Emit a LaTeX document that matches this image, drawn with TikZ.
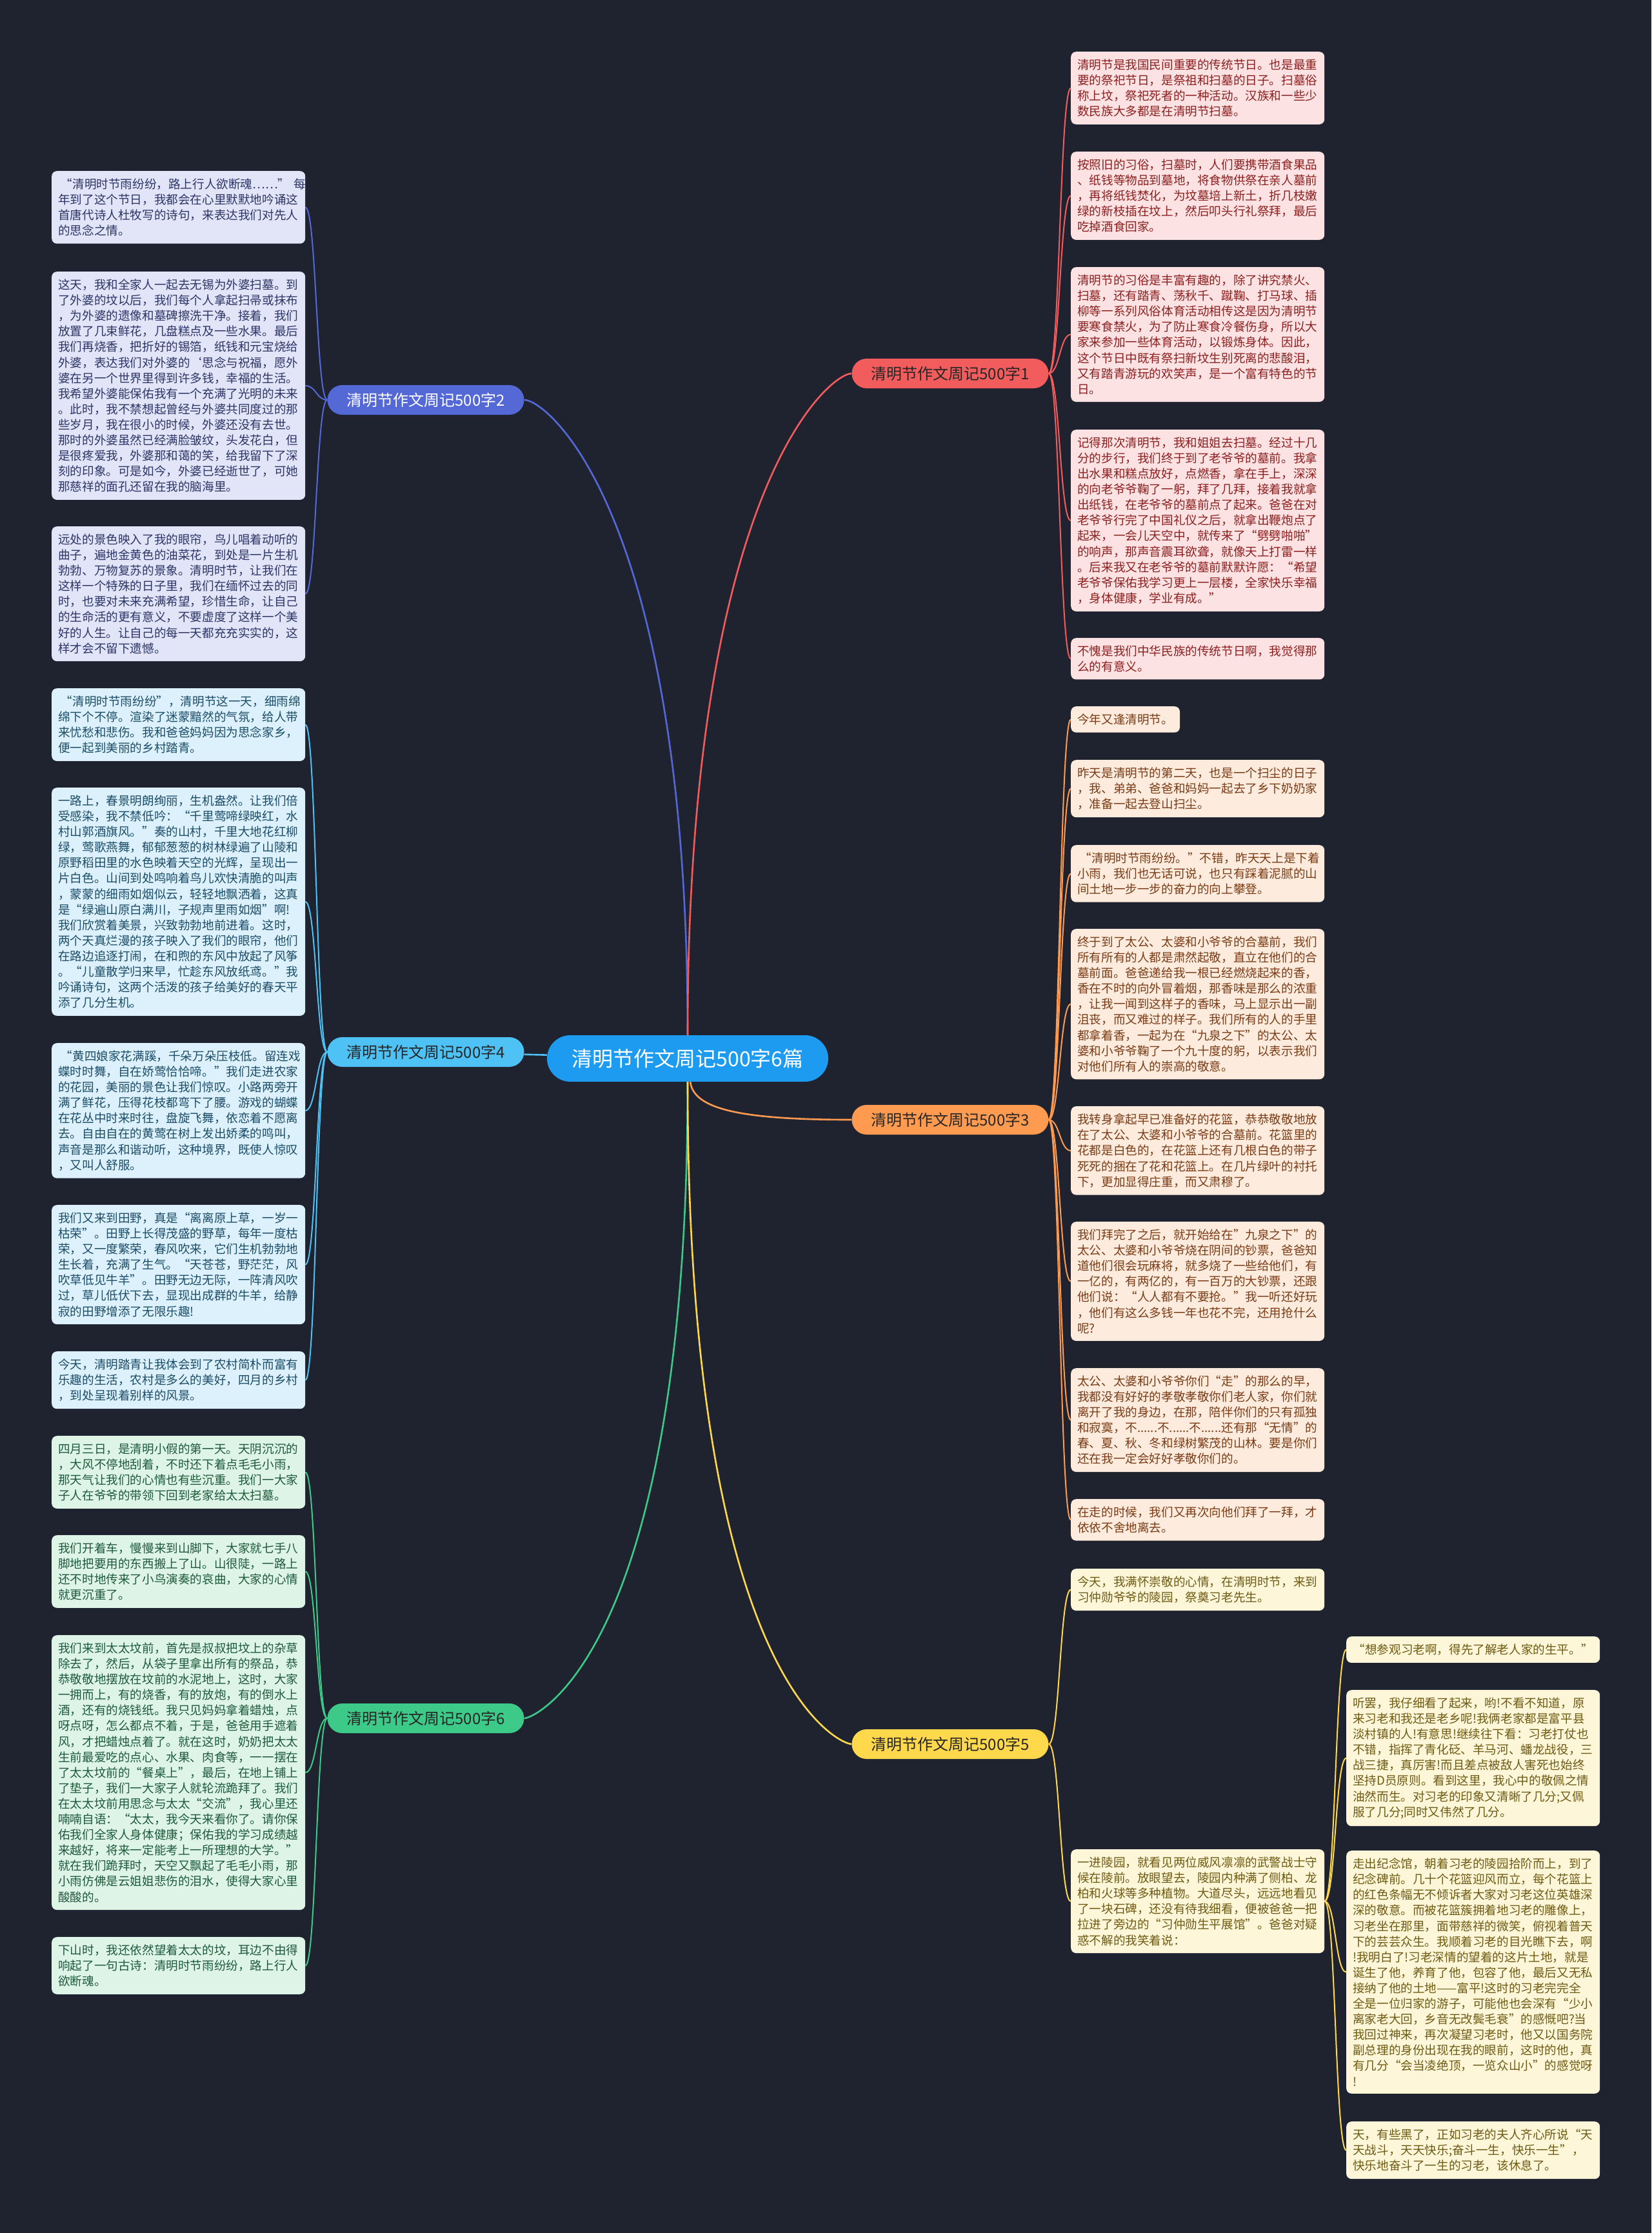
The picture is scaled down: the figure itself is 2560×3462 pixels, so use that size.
\documentclass[tikz,border=0pt]{standalone}
\usepackage{fontspec}
\setmainfont{Noto Sans CJK SC}
\usetikzlibrary{calc}
\pgfdeclarelayer{back}
\pgfdeclarelayer{lines}
\pgfsetlayers{back,lines,main}
\definecolor{bgc}{HTML}{1F2330}
\definecolor{cC}{HTML}{1D9BF0}
\definecolor{cB1}{HTML}{F25C5C}
\definecolor{cB2}{HTML}{5468D6}
\definecolor{cB3}{HTML}{FF9B50}
\definecolor{cB4}{HTML}{4EC1F5}
\definecolor{cB5}{HTML}{FFD84C}
\definecolor{cB6}{HTML}{3DCA88}
\definecolor{f1}{HTML}{FCE2E2}\definecolor{t1}{HTML}{8C1F1F}
\definecolor{f2}{HTML}{E2E5F7}\definecolor{t2}{HTML}{2C3566}
\definecolor{f3}{HTML}{FDEBDD}\definecolor{t3}{HTML}{7A3B15}
\definecolor{f4}{HTML}{DCF1FB}\definecolor{t4}{HTML}{1B4C68}
\definecolor{f5}{HTML}{FDF6D9}\definecolor{t5}{HTML}{6E5A12}
\definecolor{f6}{HTML}{DDF4E7}\definecolor{t6}{HTML}{1E5A3B}
\newcommand\linkL[3]{\draw[#1] (#2.west) .. controls ($(#2.west)+(-17,0)$) and ($(#3.east)+(17,0)$) .. (#3.east);}
\newcommand\linkR[3]{\draw[#1] (#2.east) .. controls ($(#2.east)+(17,0)$) and ($(#3.west)+(-17,0)$) .. (#3.west);}
\begin{document}
\begin{tikzpicture}[x=1pt,y=-1pt,
  leaf/.style={anchor=north west, rounded corners=8pt, text width=373pt, align=left,
    inner xsep=10pt, inner ysep=11.5pt, font=\fontsize{18.6pt}{24.1pt}\selectfont},
  lf1/.style={leaf, fill=f1, text=t1},
  lf2/.style={leaf, fill=f2, text=t2},
  lf3/.style={leaf, fill=f3, text=t3},
  lf4/.style={leaf, fill=f4, text=t4},
  lf5/.style={leaf, fill=f5, text=t5},
  lf6/.style={leaf, fill=f6, text=t6},
  br/.style={rounded corners=23pt, minimum width=305pt, minimum height=46pt, inner sep=0pt,
    font=\fontsize{24pt}{28pt}\selectfont, text=black!85},
  lk/.style={line width=2pt},
  ck/.style={line width=2.6pt}]
\useasboundingbox (0,0) rectangle (2560,3462);
\begin{pgfonlayer}{back}
\fill[bgc] (0,0) rectangle (2560,3462);
\end{pgfonlayer}

% center and branches
\node[fill=cC, text=white, rounded corners=36pt, minimum width=436pt, minimum height=72pt, inner sep=0pt,
  font=\fontsize{32pt}{36pt}\selectfont] (c) at (1066,1641) {清明节作文周记500字6篇};
\node[br, fill=cB2, text=white] (b2) at (660,620) {清明节作文周记500字2};
\node[br, fill=cB4] (b4) at (660,1631) {清明节作文周记500字4};
\node[br, fill=cB6] (b6) at (660,2664) {清明节作文周记500字6};
\node[br, fill=cB1] (b1) at (1473,579) {清明节作文周记500字1};
\node[br, fill=cB3] (b3) at (1473,1736) {清明节作文周记500字3};
\node[br, fill=cB5] (b5) at (1473,2704) {清明节作文周记500字5};

% branch 2
\node[lf2] (L2a) at (80,265) {\hspace{0.2em}“清明时节雨纷纷，路上行人欲断魂……”~每\\年到了这个节日，我都会在心里默默地吟诵这\\首唐代诗人杜牧写的诗句，来表达我们对先人\\的思念之情。};
\node[lf2] (L2b) at (80,421) {这天，我和全家人一起去无锡为外婆扫墓。到\\了外婆的坟以后，我们每个人拿起扫帚或抹布\\，为外婆的遗像和墓碑擦洗干净。接着，我们\\放置了几束鲜花，几盘糕点及一些水果。最后\\我们再烧香，把折好的锡箔，纸钱和元宝烧给\\外婆，表达我们对外婆的`思念与祝福，愿外\\婆在另一个世界里得到许多钱，幸福的生活。\\我希望外婆能保佑我有一个充满了光明的未来\\。此时，我不禁想起曾经与外婆共同度过的那\\些岁月，我在很小的时候，外婆还没有去世。\\那时的外婆虽然已经满脸皱纹，头发花白，但\\是很疼爱我，外婆那和蔼的笑，给我留下了深\\刻的印象。可是如今，外婆已经逝世了，可她\\那慈祥的面孔还留在我的脑海里。};
\node[lf2] (L2c) at (80,816) {远处的景色映入了我的眼帘，鸟儿唱着动听的\\曲子，遍地金黄色的油菜花，到处是一片生机\\勃勃、万物复苏的景象。清明时节，让我们在\\这样一个特殊的日子里，我们在缅怀过去的同\\时，也要对未来充满希望，珍惜生命，让自己\\的生命活的更有意义，不要虚度了这样一个美\\好的人生。让自己的每一天都充充实实的，这\\样才会不留下遗憾。};

% branch 4
\node[lf4] (L4a) at (80,1067) {\hspace{0.2em}“清明时节雨纷纷”，清明节这一天，细雨绵\\绵下个不停。渲染了迷蒙黯然的气氛，给人带\\来忧愁和悲伤。我和爸爸妈妈因为思念家乡，\\便一起到美丽的乡村踏青。};
\node[lf4] (L4b) at (80,1221) {一路上，春景明朗绚丽，生机盎然。让我们倍\\受感染，我不禁低吟：“千里莺啼绿映红，水\\村山郭酒旗风。”奏的山村，千里大地花红柳\\绿，莺歌燕舞，郁郁葱葱的树林绿遍了山陵和\\原野稻田里的水色映着天空的光辉，呈现出一\\片白色。山间到处鸣响着鸟儿欢快清脆的叫声\\，蒙蒙的细雨如烟似云，轻轻地飘洒着，这真\\是“绿遍山原白满川，子规声里雨如烟”啊!\\我们欣赏着美景，兴致勃勃地前进着。这时，\\两个天真烂漫的孩子映入了我们的眼帘，他们\\在路边追逐打闹，在和煦的东风中放起了风筝\\。“儿童散学归来早，忙趁东风放纸鸢。”我\\吟诵诗句，这两个活泼的孩子给美好的春天平\\添了几分生机。};
\node[lf4] (L4c) at (80,1617) {\hspace{0.2em}“黄四娘家花满蹊，千朵万朵压枝低。留连戏\\蝶时时舞，自在娇莺恰恰啼。”我们走进农家\\的花园，美丽的景色让我们惊叹。小路两旁开\\满了鲜花，压得花枝都弯下了腰。游戏的蝴蝶\\在花丛中时来时往，盘旋飞舞，依恋着不愿离\\去。自由自在的黄莺在树上发出娇柔的鸣叫，\\声音是那么和谐动听，这种境界，既使人惊叹\\，又叫人舒服。};
\node[lf4] (L4d) at (80,1868) {我们又来到田野，真是“离离原上草，一岁一\\枯荣”。田野上长得茂盛的野草，每年一度枯\\荣，又一度繁荣，春风吹来，它们生机勃勃地\\生长着，充满了生气。“天苍苍，野茫茫，风\\吹草低见牛羊”。田野无边无际，一阵清风吹\\过，草儿低伏下去，显现出成群的牛羊，给静\\寂的田野增添了无限乐趣!};
\node[lf4] (L4e) at (80,2095) {今天，清明踏青让我体会到了农村简朴而富有\\乐趣的生活，农村是多么的美好，四月的乡村\\，到处呈现着别样的风景。};

% branch 6
\node[lf6] (L6a) at (80,2226) {四月三日，是清明小假的第一天。天阴沉沉的\\，大风不停地刮着，不时还下着点毛毛小雨，\\那天气让我们的心情也有些沉重。我们一大家\\子人在爷爷的带领下回到老家给太太扫墓。};
\node[lf6] (L6b) at (80,2380) {我们开着车，慢慢来到山脚下，大家就七手八\\脚地把要用的东西搬上了山。山很陡，一路上\\还不时地传来了小鸟演奏的哀曲，大家的心情\\就更沉重了。};
\node[lf6] (L6c) at (80,2535) {我们来到太太坟前，首先是叔叔把坟上的杂草\\除去了，然后，从袋子里拿出所有的祭品，恭\\恭敬敬地摆放在坟前的水泥地上，这时，大家\\一拥而上，有的烧香，有的放炮，有的倒水上\\酒，还有的烧钱纸。我只见妈妈拿着蜡烛，点\\呀点呀，怎么都点不着，于是，爸爸用手遮着\\风，才把蜡烛点着了。就在这时，奶奶把太太\\生前最爱吃的点心、水果、肉食等，一一摆在\\了太太坟前的“餐桌上”，最后，在地上铺上\\了垫子，我们一大家子人就轮流跪拜了。我们\\在太太坟前用思念与太太“交流”，我心里还\\喃喃自语：“太太，我今天来看你了。请你保\\佑我们全家人身体健康；保佑我的学习成绩越\\来越好，将来一定能考上一所理想的大学。”\\就在我们跪拜时，天空又飘起了毛毛小雨，那\\小雨仿佛是云姐姐悲伤的泪水，使得大家心里\\酸酸的。};
\node[lf6] (L6d) at (80,3003) {下山时，我还依然望着太太的坟，耳边不由得\\响起了一句古诗：清明时节雨纷纷，路上行人\\欲断魂。};

% branch 1
\node[lf1] (R1a) at (1660,80) {清明节是我国民间重要的传统节日。也是最重\\要的祭祀节日，是祭祖和扫墓的日子。扫墓俗\\称上坟，祭祀死者的一种活动。汉族和一些少\\数民族大多都是在清明节扫墓。};
\node[lf1] (R1b) at (1660,235) {按照旧的习俗，扫墓时，人们要携带酒食果品\\、纸钱等物品到墓地，将食物供祭在亲人墓前\\，再将纸钱焚化，为坟墓培上新土，折几枝嫩\\绿的新枝插在坟上，然后叩头行礼祭拜，最后\\吃掉酒食回家。};
\node[lf1] (R1c) at (1660,414) {清明节的习俗是丰富有趣的，除了讲究禁火、\\扫墓，还有踏青、荡秋千、蹴鞠、打马球、插\\柳等一系列风俗体育活动相传这是因为清明节\\要寒食禁火，为了防止寒食冷餐伤身，所以大\\家来参加一些体育活动，以锻炼身体。因此，\\这个节日中既有祭扫新坟生别死离的悲酸泪，\\又有踏青游玩的欢笑声，是一个富有特色的节\\日。};
\node[lf1] (R1d) at (1660,666) {记得那次清明节，我和姐姐去扫墓。经过十几\\分的步行，我们终于到了老爷爷的墓前。我拿\\出水果和糕点放好，点燃香，拿在手上，深深\\的向老爷爷鞠了一躬，拜了几拜，接着我就拿\\出纸钱，在老爷爷的墓前点了起来。爸爸在对\\老爷爷行完了中国礼仪之后，就拿出鞭炮点了\\起来，一会儿天空中，就传来了“劈劈啪啪”\\的响声，那声音震耳欲聋，就像天上打雷一样\\。后来我又在老爷爷的墓前默默许愿：“希望\\老爷爷保佑我学习更上一层楼，全家快乐幸福\\，身体健康，学业有成。”};
\node[lf1] (R1e) at (1660,989) {不愧是我们中华民族的传统节日啊，我觉得那\\么的有意义。};

% branch 3
\node[lf3, text width=] (R3a) at (1660,1095) {今年又逢清明节。};
\node[lf3] (R3b) at (1660,1178) {昨天是清明节的第二天，也是一个扫尘的日子\\，我、弟弟、爸爸和妈妈一起去了乡下奶奶家\\，准备一起去登山扫尘。};
\node[lf3] (R3c) at (1660,1310) {\hspace{0.2em}“清明时节雨纷纷。”不错，昨天天上是下着\\小雨，我们也无话可说，也只有踩着泥腻的山\\间土地一步一步的奋力的向上攀登。};
\node[lf3] (R3d) at (1660,1440) {终于到了太公、太婆和小爷爷的合墓前，我们\\所有所有的人都是肃然起敬，直立在他们的合\\墓前面。爸爸递给我一根已经燃烧起来的香，\\香在不时的向外冒着烟，那香味是那么的浓重\\，让我一闻到这样子的香味，马上显示出一副\\沮丧，而又难过的样子。我们所有的人的手里\\都拿着香，一起为在“九泉之下”的太公、太\\婆和小爷爷鞠了一个九十度的躬，以表示我们\\对他们所有人的崇高的敬意。};
\node[lf3] (R3e) at (1660,1715) {我转身拿起早已准备好的花篮，恭恭敬敬地放\\在了太公、太婆和小爷爷的合墓前。花篮里的\\花都是白色的，在花篮上还有几根白色的带子\\死死的捆在了花和花篮上。在几片绿叶的衬托\\下，更加显得庄重，而又肃穆了。};
\node[lf3] (R3f) at (1660,1894) {我们拜完了之后，就开始给在”九泉之下”的\\太公、太婆和小爷爷烧在阴间的钞票，爸爸知\\道他们很会玩麻将，就多烧了一些给他们，有\\一亿的，有两亿的，有一百万的大钞票，还跟\\他们说：“人人都有不要抢。”我一听还好玩\\，他们有这么多钱一年也花不完，还用抢什么\\呢?};
\node[lf3] (R3g) at (1660,2121) {太公、太婆和小爷爷你们“走”的那么的早，\\我都没有好好的孝敬孝敬你们老人家，你们就\\离开了我的身边，在那，陪伴你们的只有孤独\\和寂寞，不......不......不......还有那“无情”的\\春、夏、秋、冬和绿树繁茂的山林。要是你们\\还在我一定会好好孝敬你们的。};
\node[lf3] (R3h) at (1660,2324) {在走的时候，我们又再次向他们拜了一拜，才\\依依不舍地离去。};

% branch 5
\node[lf5] (R5a) at (1660,2432) {今天，我满怀崇敬的心情，在清明时节，来到\\习仲勋爷爷的陵园，祭奠习老先生。};
\node[lf5] (R5b) at (1660,2867) {一进陵园，就看见两位威风凛凛的武警战士守\\候在陵前。放眼望去，陵园内种满了侧柏、龙\\柏和火球等多种植物。大道尽头，远远地看见\\了一块石碑，还没有待我细看，便被爸爸一把\\拉进了旁边的“习仲勋生平展馆”。爸爸对疑\\惑不解的我笑着说：};
\node[lf5, align=center] (S1) at (2087,2537) {“想参观习老啊，得先了解老人家的生平。”};
\node[lf5] (S2) at (2087,2620) {听罢，我仔细看了起来，哟!不看不知道，原\\来习老和我还是老乡呢!我俩老家都是富平县\\淡村镇的人!有意思!继续往下看：习老打仗也\\不错，指挥了青化砭、羊马河、蟠龙战役，三\\战三捷，真厉害!而且差点被敌人害死也始终\\坚持D员原则。看到这里，我心中的敬佩之情\\油然而生。对习老的印象又清晰了几分;又佩\\服了几分;同时又伟然了几分。};
\node[lf5] (S3) at (2087,2869) {走出纪念馆，朝着习老的陵园拾阶而上，到了\\纪念碑前。几十个花篮迎风而立，每个花篮上\\的红色条幅无不倾诉者大家对习老这位英雄深\\深的敬意。而被花篮簇拥着地习老的雕像上，\\习老坐在那里，面带慈祥的微笑，俯视着普天\\下的芸芸众生。我顺着习老的目光瞧下去，啊\\!我明白了!习老深情的望着的这片土地，就是\\诞生了他，养育了他，包容了他，最后又无私\\接纳了他的土地——富平!这时的习老完完全\\全是一位归家的游子，可能他也会深有“少小\\离家老大回，乡音无改鬓毛衰”的感慨吧?当\\我回过神来，再次凝望习老时，他又以国务院\\副总理的身份出现在我的眼前，这时的他，真\\有几分“会当凌绝顶，一览众山小”的感觉呀\\!};
\node[lf5] (S4) at (2087,3289) {天，有些黑了，正如习老的夫人齐心所说“天\\天战斗，天天快乐;奋斗一生，快乐一生”，\\快乐地奋斗了一生的习老，该休息了。};

\begin{pgfonlayer}{lines}
% center to branches
\draw[ck, cB2] (c) .. controls (1066,800) and (850,620) .. (b2.east);
\draw[ck, cB1] (c) .. controls (1066,760) and (1285,579) .. (b1.west);
\draw[ck, cB4] (c) -- (b4);
\draw[ck, cB3] (c) .. controls (1075,1720) and (1150,1736) .. (b3.west);
\draw[ck, cB6] (c) .. controls (1066,2560) and (830,2664) .. (b6.east);
\draw[ck, cB5] (c) .. controls (1066,2600) and (1300,2704) .. (b5.west);
% branch 2
\linkL{lk,cB2}{b2}{L2a}\linkL{lk,cB2}{b2}{L2b}\linkL{lk,cB2}{b2}{L2c}
% branch 4
\linkL{lk,cB4}{b4}{L4a}\linkL{lk,cB4}{b4}{L4b}\linkL{lk,cB4}{b4}{L4c}\linkL{lk,cB4}{b4}{L4d}\linkL{lk,cB4}{b4}{L4e}
% branch 6
\linkL{lk,cB6}{b6}{L6a}\linkL{lk,cB6}{b6}{L6b}\linkL{lk,cB6}{b6}{L6c}\linkL{lk,cB6}{b6}{L6d}
% branch 1
\linkR{lk,cB1}{b1}{R1a}\linkR{lk,cB1}{b1}{R1b}\linkR{lk,cB1}{b1}{R1c}\linkR{lk,cB1}{b1}{R1d}\linkR{lk,cB1}{b1}{R1e}
% branch 3
\linkR{lk,cB3}{b3}{R3a}\linkR{lk,cB3}{b3}{R3b}\linkR{lk,cB3}{b3}{R3c}\linkR{lk,cB3}{b3}{R3d}
\linkR{lk,cB3}{b3}{R3e}\linkR{lk,cB3}{b3}{R3f}\linkR{lk,cB3}{b3}{R3g}\linkR{lk,cB3}{b3}{R3h}
% branch 5
\linkR{lk,cB5}{b5}{R5a}\linkR{lk,cB5}{b5}{R5b}
\linkR{lk,cB5}{R5b}{S1}\linkR{lk,cB5}{R5b}{S2}\linkR{lk,cB5}{R5b}{S3}\linkR{lk,cB5}{R5b}{S4}
\end{pgfonlayer}
\end{tikzpicture}
\end{document}
